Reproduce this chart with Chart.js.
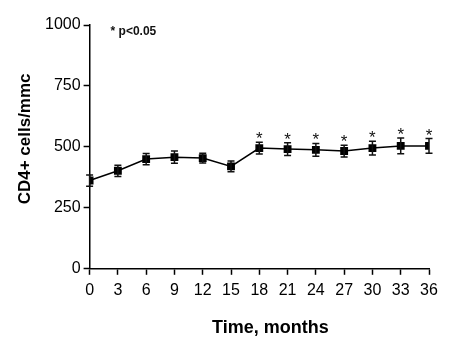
<!DOCTYPE html>
<html>
<head>
<meta charset="utf-8">
<script src="https://cdn.jsdelivr.net/npm/chart.js@4.4.1/dist/chart.umd.min.js"></script>
<style>
    html, body { margin: 0; padding: 0; background: #fff; }
    #wrap { width: 455px; height: 345px; }
</style>
</head>
<body>
<div id="wrap"><canvas id="cd4Chart"></canvas></div>
<script>
// Data
const months = [0, 3, 6, 9, 12, 15, 18, 21, 24, 27, 30, 33, 36];
const cd4Mean = [362, 402, 450, 458, 454, 420, 495, 491, 488, 483, 495, 504, 504];
const cd4Err = [23, 23, 23, 25, 20, 22, 24, 26, 26, 24, 28, 32, 30];
const significant = [false, false, false, false, false, false, true, true, true, true, true, true, true];
const yTicks = [0, 250, 500, 750, 1000];

const fontFamily = '"Liberation Sans", Arial, sans-serif';

// Error bars, asterisks, p-value note and axis titles (titles sit a bit off-centre in the original)
const extrasPlugin = {
    id: 'extras',
    afterDatasetsDraw(chart) {
        const ctx = chart.ctx;
        const x = chart.scales.x;
        const y = chart.scales.y;
        const area = chart.chartArea;
        ctx.save();
        ctx.strokeStyle = '#111';
        ctx.fillStyle = '#111';
        ctx.lineWidth = 1.5;
        ctx.font = '17px ' + fontFamily;
        ctx.textAlign = 'center';
        ctx.textBaseline = 'alphabetic';
        const star = ctx.measureText('*');
        const starMid = (star.actualBoundingBoxAscent - star.actualBoundingBoxDescent) / 2;
        months.forEach((m, i) => {
            const px = x.getPixelForValue(m);
            const top = y.getPixelForValue(cd4Mean[i] + cd4Err[i]);
            const bot = y.getPixelForValue(cd4Mean[i] - cd4Err[i]);
            ctx.beginPath();
            ctx.moveTo(px, top);
            ctx.lineTo(px, bot);
            ctx.moveTo(px - 3.5, top);
            ctx.lineTo(px + 3.5, top);
            ctx.moveTo(px - 3.5, bot);
            ctx.lineTo(px + 3.5, bot);
            ctx.stroke();

            if (significant[i]) {
                ctx.fillText('*', px, top - 7 + starMid);
            }
        });

        ctx.textAlign = 'left';
        ctx.textBaseline = 'middle';
        ctx.font = 'bold 12px ' + fontFamily;
        ctx.fillText('* p<0.05', area.left + 21, area.top + 7);

        // axis titles
        ctx.fillStyle = '#000';
        ctx.textAlign = 'center';
        ctx.font = 'bold 18px ' + fontFamily;
        ctx.fillText('Time, months', (area.left + area.right) / 2 + 11, chart.height - 17);

        ctx.translate(25, (area.top + area.bottom) / 2 - 8);
        ctx.rotate(-Math.PI / 2);
        ctx.font = 'bold 17px ' + fontFamily;
        ctx.fillText('CD4+ cells/mmc', 0, 0);
        ctx.restore();
    }
};

const tickFont = { family: fontFamily, size: 16 };

new Chart(document.getElementById('cd4Chart'), {
    type: 'line',
    data: {
        datasets: [{
            data: months.map((m, i) => ({ x: m, y: cd4Mean[i] })),
            borderColor: '#000',
            backgroundColor: '#000',
            borderWidth: 1.5,
            pointStyle: 'rect',
            pointRadius: 4.5,
            tension: 0
        }]
    },
    options: {
        responsive: true,
        maintainAspectRatio: false,
        animation: false,
        layout: { padding: { top: 25, right: 26, left: 42, bottom: 39 } },
        plugins: {
            legend: { display: false },
            tooltip: { enabled: false }
        },
        scales: {
            x: {
                type: 'linear',
                min: 0,
                max: 36,
                ticks: { stepSize: 3, color: '#000', font: tickFont, padding: 6, maxRotation: 0 },
                grid: { drawOnChartArea: false, tickLength: 6, color: '#000', tickWidth: 1.5 },
                border: { color: '#000', width: 1.5 }
            },
            y: {
                min: 0,
                max: 1000,
                afterBuildTicks(scale) {
                    scale.ticks = yTicks.map(v => ({ value: v }));
                },
                ticks: { color: '#000', font: tickFont, padding: 3, callback: v => String(v) },
                grid: { drawOnChartArea: false, tickLength: 6, color: '#000', tickWidth: 1.5 },
                border: { color: '#000', width: 1.5 }
            }
        }
    },
    plugins: [extrasPlugin]
});
</script>
</body>
</html>
